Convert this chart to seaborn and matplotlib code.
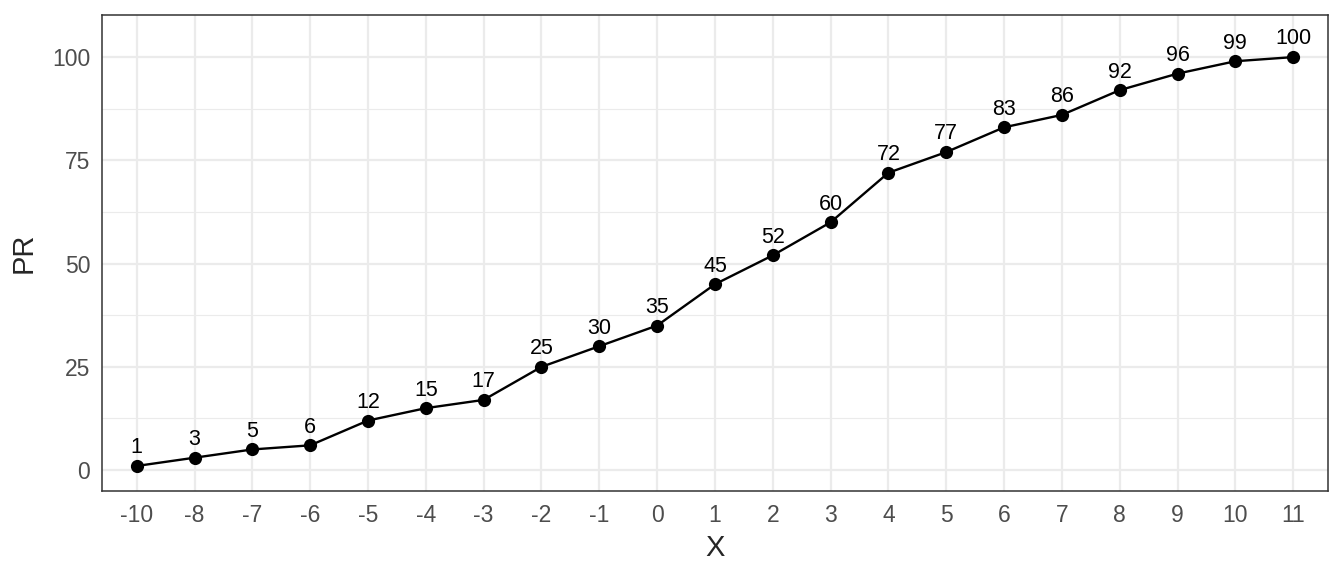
import matplotlib
matplotlib.use("Agg")
import pandas as pd
import seaborn as sns
import matplotlib.pyplot as plt
from matplotlib.ticker import MultipleLocator

x_labels = ["-10", "-8", "-7", "-6", "-5", "-4", "-3", "-2", "-1", "0", "1",
            "2", "3", "4", "5", "6", "7", "8", "9", "10", "11"]
pr_values = [1, 3, 5, 6, 12, 15, 17, 25, 30, 35, 45, 52, 60, 72, 77, 83, 86,
             92, 96, 99, 100]

data = pd.DataFrame({"X": x_labels, "PR": pr_values})

sns.set_style("white")
plt.rcParams["font.family"] = ["Liberation Sans", "DejaVu Sans"]

fig = plt.figure(figsize=(13.44, 5.76), dpi=100)
ax = fig.add_axes([0.0759, 0.148, 0.9121, 0.826])

sns.lineplot(x="X", y="PR", data=data, color="black", linewidth=1.7,
             marker="o", markersize=9.5, markeredgewidth=0, ax=ax, sort=False)

for lab, val in zip(x_labels, pr_values):
    ax.annotate(str(val), (lab, val), xytext=(0, 5.5), textcoords="offset points",
                ha="center", va="bottom", fontsize=15.5, color="black")

ax.set_xlim(-0.6, len(x_labels) - 0.4)
ax.set_ylim(-5, 110.2)
ax.yaxis.set_major_locator(MultipleLocator(25))
ax.yaxis.set_minor_locator(MultipleLocator(12.5))

ax.set_axisbelow(True)
ax.grid(True, which="major", color="#EBEBEB", linewidth=1.6)
ax.grid(True, which="minor", axis="y", color="#EBEBEB", linewidth=0.8)
for s in ax.spines.values():
    s.set_color("#333333")
    s.set_linewidth(1.1)

ax.tick_params(axis="both", which="major", length=4.5, width=1.1,
               color="#333333", labelcolor="#4D4D4D", labelsize=16.5)
ax.tick_params(axis="x", pad=5)
ax.tick_params(axis="y", pad=4)
ax.tick_params(axis="y", which="minor", length=0)
ax.set_xlabel("X", fontsize=21, labelpad=5)
ax.set_ylabel("PR", fontsize=21, labelpad=10)

plt.savefig("out.png", dpi=100)
